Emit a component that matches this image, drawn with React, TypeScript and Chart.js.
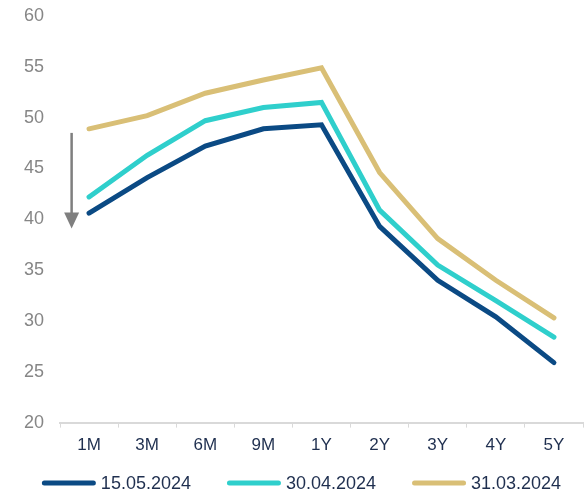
import React, { useEffect, useRef } from "react";
import { Chart, registerables } from "chart.js";

Chart.register(...registerables);

const categories = ["1M", "3M", "6M", "9M", "1Y", "2Y", "3Y", "4Y", "5Y"];
const series15May = [40.6, 44.1, 47.2, 48.9, 49.3, 39.3, 34.0, 30.4, 25.9];
const series30Apr = [42.2, 46.3, 49.7, 51.0, 51.5, 40.9, 35.5, 32.0, 28.4];
const series31Mar = [48.9, 50.2, 52.4, 53.7, 54.9, 44.6, 38.1, 34.0, 30.3];
const seriesLabels = ["15.05.2024", "30.04.2024", "31.03.2024"];
const seriesColors = ["#0b4a84", "#2fcfcc", "#d9bf76"];
const yMin = 20;
const yMax = 60;
const yStep = 5;
// annotation arrow (data units): from value to value, offset in categories from first point
const arrowFrom = 48.5;
const arrowTo = 39.1;
const arrowOffset = -0.3;

const FONT = "'Liberation Sans', Arial, sans-serif";
const TEXT_DARK = "#1f2f4f";

const arrowPlugin = {
  id: "downArrow",
  afterDatasetsDraw(chart: any) {
    const { ctx, scales } = chart;
    const xs = scales.x;
    const ys = scales.y;
    const step = xs.getPixelForValue(1) - xs.getPixelForValue(0);
    const x = xs.getPixelForValue(0) + arrowOffset * step;
    const y1 = ys.getPixelForValue(arrowFrom);
    const y2 = ys.getPixelForValue(arrowTo);
    const headH = 16;
    const headW = 15;
    ctx.save();
    ctx.strokeStyle = "#7f7f7f";
    ctx.fillStyle = "#7f7f7f";
    ctx.lineWidth = 2.5;
    ctx.beginPath();
    ctx.moveTo(x, y1);
    ctx.lineTo(x, y2 - headH + 1);
    ctx.stroke();
    ctx.beginPath();
    ctx.moveTo(x - headW / 2, y2 - headH);
    ctx.lineTo(x + headW / 2, y2 - headH);
    ctx.lineTo(x, y2);
    ctx.closePath();
    ctx.fill();
    ctx.restore();
  },
};

const legendPlugin = {
  id: "bottomLegend",
  afterDraw(chart: any) {
    const ctx = chart.ctx;
    ctx.save();
    ctx.font = `18px ${FONT}`;
    const lineLen = 54;
    const gapText = 5;
    const gapItem = 36;
    const items = chart.data.datasets.map((ds: any) => ({
      label: ds.label as string,
      color: ds.borderColor as string,
      w: lineLen + gapText + ctx.measureText(ds.label).width,
    }));
    const total =
      items.reduce((s: number, it: any) => s + it.w, 0) + gapItem * (items.length - 1);
    let x = (chart.width - total) / 2 + 9;
    const y = chart.height - 12;
    ctx.textBaseline = "middle";
    ctx.textAlign = "left";
    for (const it of items) {
      ctx.strokeStyle = it.color;
      ctx.lineWidth = 5;
      ctx.lineCap = "round";
      ctx.beginPath();
      ctx.moveTo(x + 2.5, y);
      ctx.lineTo(x + lineLen - 2.5, y);
      ctx.stroke();
      ctx.fillStyle = TEXT_DARK;
      ctx.fillText(it.label, x + lineLen + gapText, y + 1);
      x += it.w + gapItem;
    }
    ctx.restore();
  },
};

export default function App() {
  const ref = useRef<HTMLCanvasElement>(null);
  useEffect(() => {
    document.body.style.margin = "0";
    const data = [series15May, series30Apr, series31Mar];
    const chart = new Chart(ref.current as HTMLCanvasElement, {
      type: "line",
      data: {
        labels: categories,
        datasets: data.map((d, i) => ({
          label: seriesLabels[i],
          data: d,
          borderColor: seriesColors[i],
          backgroundColor: seriesColors[i],
          borderWidth: 5,
          pointRadius: 0,
          tension: 0,
          borderCapStyle: "round" as const,
          borderJoinStyle: "miter" as const,
          fill: false,
        })),
      },
      options: {
        responsive: false,
        animation: false,
        layout: { padding: { top: 16, left: 0, right: 2, bottom: 31 } },
        scales: {
          x: {
            offset: true,
            grid: {
              display: true,
              drawOnChartArea: false,
              drawTicks: true,
              tickLength: 5,
              color: "#d9d9d9",
              offset: true,
            },
            border: { display: true, color: "#d9d9d9", width: 2 },
            ticks: {
              color: TEXT_DARK,
              font: { family: FONT, size: 17 },
              padding: 8,
              maxRotation: 0,
            },
          },
          y: {
            min: yMin,
            max: yMax,
            grid: { display: false, drawTicks: false },
            border: { display: false },
            ticks: {
              stepSize: yStep,
              color: "#868686",
              font: { family: FONT, size: 18 },
              padding: 16,
            },
            afterFit: (scale: any) => {
              scale.width = 60;
              scale.paddingTop = 0;
              scale.paddingBottom = 0;
            },
          },
        },
        plugins: {
          legend: { display: false },
          tooltip: { enabled: false },
        },
      },
      plugins: [arrowPlugin, legendPlugin],
    });
    return () => chart.destroy();
  }, []);
  return (
    <div style={{ width: 585, height: 495 }}>
      <canvas ref={ref} width={585} height={495} />
    </div>
  );
}
